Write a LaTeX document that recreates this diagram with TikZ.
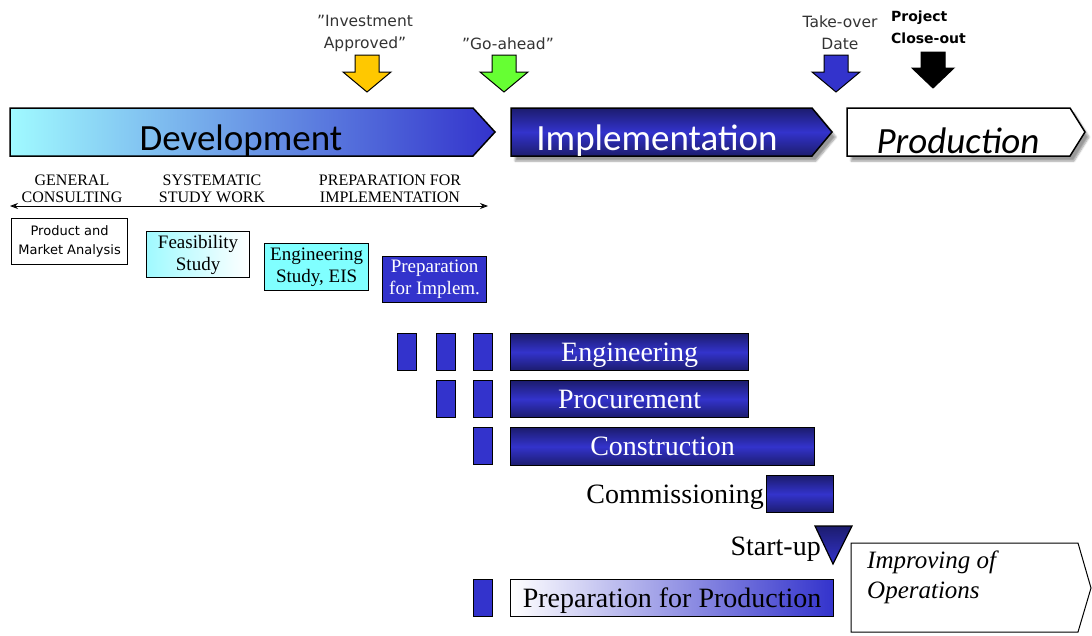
\documentclass[tikz,border=0pt]{standalone}
\usepackage{fontspec}
\setmainfont{Liberation Serif}
\newfontfamily\calib{Carlito}
\newfontfamily\dvs{DejaVu Sans}
\usetikzlibrary{shadows.blur,arrows.meta}
\definecolor{rblue}{HTML}{3333CC}
\definecolor{navy}{HTML}{1C1C6E}
\definecolor{lcyan}{HTML}{A0FAFF}
\definecolor{cyanbox}{HTML}{80FFFF}
\definecolor{gold}{HTML}{FFC800}
\definecolor{lime}{HTML}{66FF33}
\definecolor{headtxt}{HTML}{333333}
\begin{document}
\begin{tikzpicture}[x=1pt,y=-1pt,
  phase/.style={draw=black, line width=1.5pt, line join=miter},
  phasetxt/.style={font=\calib\fontsize{37}{40}\selectfont, inner sep=0pt},
  milestone/.pic={\path[pic actions, draw=black, line width=1pt, line join=miter]
     (-12,0) -- (12,0) -- (12,17) -- (24,17) -- (0,37) -- (-24,17) -- (-12,17) -- cycle;},
  mtxt/.style={font=\dvs\fontsize{15.5}{22}\selectfont, text=headtxt, align=center, inner sep=0pt},
  captxt/.style={font=\fontsize{16}{17}\selectfont, align=center, inner sep=0pt},
  study/.style={draw=black, line width=1.2pt, anchor=north west, inner sep=0pt, align=center,
     font=\fontsize{19}{22}\selectfont},
  bar/.style={draw=black, line width=1.2pt, top color=navy, bottom color=navy, middle color=rblue,
     inner sep=0pt, anchor=north west, text=white, text depth=0pt, font=\fontsize{28}{30}\selectfont},
  blk/.style={draw=black, line width=1.2pt, fill=rblue, inner sep=0pt, anchor=north west,
     minimum width=19pt, minimum height=37pt},
  plain/.style={inner sep=0pt, font=\fontsize{28}{30}\selectfont},
]
\useasboundingbox (0,0) rectangle (1092,635);

% phase chevrons
\path[phase, left color=lcyan, right color=rblue]
  (10,108) -- (473,108) -- (495,132) -- (473,156) -- (10,156) -- cycle;
\node[phasetxt] (dev) at (241,141) {Development};
\path[phase, top color=navy, bottom color=navy, middle color=rblue,
      blur shadow={shadow xshift=4pt, shadow yshift=-5pt, shadow blur steps=6}]
  (511,108) -- (812,108) -- (832,132) -- (812,156) -- (511,156) -- cycle;
\node[phasetxt, text=white] (impl) at (657,141) {Implementation};
\path[phase, fill=white,
      blur shadow={shadow xshift=4pt, shadow yshift=-5pt, shadow blur steps=6}]
  (847,108) -- (1070,108) -- (1085,132) -- (1070,156) -- (847,156) -- cycle;
\node[phasetxt, font=\calib\itshape\fontsize{37}{40}\selectfont] (prod) at (958,141) {Production};

% milestones
\pic[fill=gold] at (367,55) {milestone};
\pic[fill=lime] at (504,55) {milestone};
\pic[fill=rblue] at (836,55) {milestone};
\path[draw=black, fill=black, line width=1pt]
  (921,52) -- (945,52) -- (945,68) -- (954,68) -- (933,88) -- (912,68) -- (921,68) -- cycle;
\node[mtxt] (invest) at (365,33) {”Investment\\Approved”};
\node[mtxt] (goahead) at (508,44) {”Go-ahead”};
\node[mtxt] (takeover) at (840,33) {Take-over\\Date};
\node[mtxt, text=black, align=left, anchor=west, font=\dvs\bfseries\fontsize{14}{22}\selectfont]
  (closeout) at (891,27) {Project\\Close-out};

% development stages
\node[captxt] (gen) at (72,189) {GENERAL\\CONSULTING};
\node[captxt] (sys) at (212,189) {SYSTEMATIC\\STUDY WORK};
\node[captxt] (prep) at (390,189) {PREPARATION FOR\\IMPLEMENTATION};
\coordinate (spanl) at (10,206);
\coordinate (spanr) at (488,206);
\draw[line width=0.8pt, {Stealth[length=8pt,width=6pt]}-{Stealth[length=8pt,width=6pt]}] (spanl) -- (spanr);

\node[study, fill=white, minimum width=116pt, minimum height=46pt,
      font=\dvs\fontsize{13}{19}\selectfont] (pma) at (11,218) {Product and\\Market Analysis};
\node[study, left color=lcyan, right color=white, minimum width=103pt, minimum height=46pt]
  (feas) at (146,231) {Feasibility\\Study};
\node[study, fill=cyanbox, minimum width=104pt, minimum height=47pt]
  (eis) at (264,243) {Engineering\\Study, EIS};
\node[study, fill=rblue, text=white, minimum width=104pt, minimum height=46pt]
  (pfi) at (382,256) {Preparation\\for Implem.};

% implementation activities
\node[blk] (e1) at (397,333) {};
\node[blk] (e2) at (436,333) {};
\node[blk] (e3) at (473,333) {};
\node[blk] (p2) at (436,380) {};
\node[blk] (p3) at (473,380) {};
\node[blk] (c3) at (473,427) {};
\node[blk] (pp3) at (473,579) {};

\node[bar, minimum width=238pt, minimum height=37pt] (eng) at (510,333) {Engineering};
\node[bar, minimum width=238pt, minimum height=37pt] (proc) at (510,380) {Procurement};
\node[bar, minimum width=304pt, minimum height=38pt] (cons) at (510,427) {Construction};
\node[bar, minimum width=67pt, minimum height=37pt] (comm) at (766,475) {};
\node[plain, anchor=east] (commtxt) at (764,497) {Commissioning};

\path[draw=black, line width=1.2pt, top color=navy, bottom color=rblue, line join=miter]
  (815,526) -- (852,526) -- (833,564) -- cycle;
\node[plain, anchor=east] (startup) at (821,549) {Start-up};

\node[bar, text=black, left color=white, right color=rblue, minimum width=323pt, minimum height=37pt]
  (pprod) at (510,579) {Preparation for Production};

% improving of operations
\path[draw=black, line width=1pt, fill=white, line join=miter]
  (851,543) -- (1078,543) -- (1091,588) -- (1078,632) -- (851,632) -- cycle;
\node[anchor=north west, align=left, inner sep=0pt, font=\itshape\fontsize{25}{30}\selectfont]
  (improve) at (867,551) {Improving of\\Operations};
\end{tikzpicture}
\end{document}
